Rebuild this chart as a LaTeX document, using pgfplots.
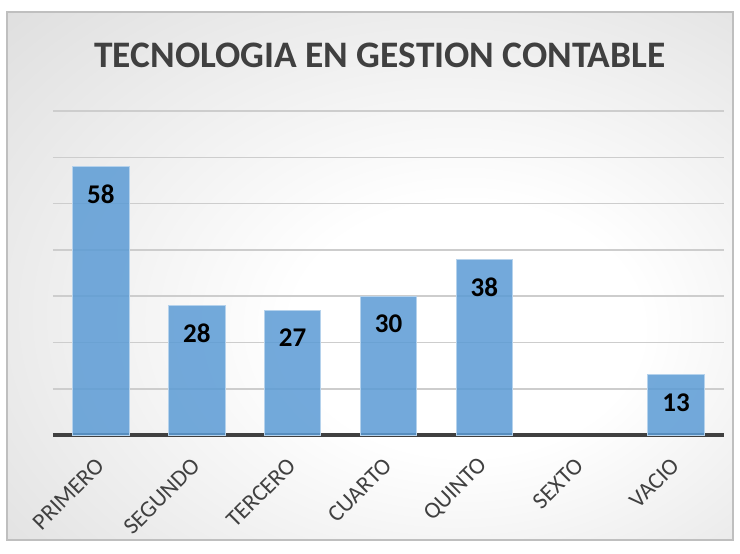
\documentclass[border=0pt]{standalone}
\usepackage{pgfplots}
\pgfplotsset{compat=1.18}
\usepackage{fontspec}
\setmainfont{Carlito}
\definecolor{barblue}{RGB}{91,155,213}
\definecolor{txtgray}{RGB}{64,64,64}
\definecolor{gridgray}{RGB}{205,205,205}
\pgfdeclareradialshading{bgshade}{\pgfpoint{8bp}{-6bp}}{color(0bp)=(white); color(12bp)=(white); color(72bp)=(black!27)}
\begin{document}
\begin{tikzpicture}
\useasboundingbox (-26.5pt,-59pt) rectangle (343.5pt,217.5pt);
\shade[shading=bgshade] (-23pt,-52.5pt) rectangle (340pt,211.5pt);
\draw[black!25, line width=0.8pt] (-23pt,-52.5pt) rectangle (340pt,211.5pt);
\node[font=\fontsize{18.7}{21}\selectfont\bfseries, text=txtgray] at (163.5pt,190pt) {TECNOLOGIA EN GESTION CONTABLE};
\begin{axis}[
  at={(0pt,0pt)}, anchor=south west,
  scale only axis, width=335.5pt, height=162pt,
  xmin=-0.5, xmax=6.5, ymin=0, ymax=70,
  axis x line=bottom, axis y line=left,
  x axis line style={draw=txtgray, line width=2pt, -},
  y axis line style={draw=none},
  ytick={10,20,...,70}, yticklabels={},
  ymajorgrids, grid style={draw=gridgray, line width=0.8pt},
  xtick={0,...,6},
  xticklabels={PRIMERO,SEGUNDO,TERCERO,CUARTO,QUINTO,SEXTO,VACIO},
  major tick length=0pt,
  xticklabel style={xshift=2pt, rotate=45, anchor=east, font=\fontsize{11.7}{14}\selectfont, text=txtgray},
  xticklabel shift=11pt,
  /pgf/number format/assume math mode=true,
  ybar, bar width=0.59,
  nodes near coords,
  nodes near coords style={anchor=center, yshift=-14pt, font=\fontsize{13.5}{15}\selectfont\bfseries, text=black, text opacity=1, fill opacity=1},
  clip=false,
]
\addplot[fill=barblue, fill opacity=0.85, draw=barblue!45!white, line width=0.5pt] coordinates {(0,58) (1,28) (2,27) (3,30) (4,38) (6,13)};
\end{axis}
\end{tikzpicture}
\end{document}
